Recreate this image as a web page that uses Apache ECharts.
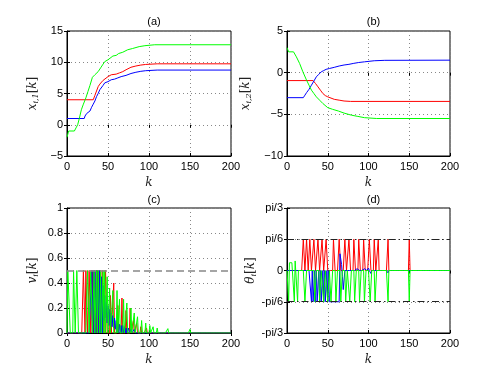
<!DOCTYPE html>
<html>
<head>
<meta charset="utf-8">
<script src="https://cdn.jsdelivr.net/npm/echarts@6/dist/echarts.min.js"></script>
<style>
  html, body { margin: 0; padding: 0; background: #fff; }
  #main { width: 498px; height: 375px; }
</style>
</head>
<body>
<div id="main"></div>
<script>
// k axis ticks
const kTicks = [0, 50, 100, 150, 200];
const TH = 0.5236; // saturation pi/6

// (a) x_{i,1}[k]  -- [k, value]
const aRed = [[0,4],[32,4],[34,4.7],[36,5.4],[38,6.1],[40,6.5],[42,6.8],[44,7.1],[46,7.4],[50,7.7],[54,8.0],[60,8.1],[64,8.3],[68,8.5],[72,8.8],[78,9.2],[84,9.4],[90,9.55],[96,9.65],[110,9.75],[200,9.75]];
const aBlue = [[0,1],[21,1],[22,1.4],[24,1.8],[26,2.0],[28,2.2],[30,2.8],[32,3.3],[34,3.8],[36,4.5],[38,5.0],[40,5.6],[42,5.9],[44,6.3],[46,6.7],[50,6.9],[54,7.2],[58,7.3],[62,7.5],[66,7.7],[72,7.9],[78,8.2],[84,8.4],[90,8.55],[96,8.65],[110,8.75],[200,8.75]];
const aGreen = [[0,-2],[2,-1],[9,-1],[11,-0.5],[13,0],[15,1],[17.5,2.4],[20,3.3],[23,4.3],[25.5,5.3],[28,6.3],[31,7.6],[34,8.0],[38,8.5],[41,9.1],[44,9.7],[46,10.1],[50,10.4],[52,10.6],[56,11.0],[60,11.1],[63,11.4],[68,11.6],[74,12.0],[80,12.2],[88,12.5],[95,12.65],[107,12.8],[200,12.8]];

// (b) x_{i,2}[k]
const bRed = [[0,-0.95],[32,-0.95],[35,-1.3],[38,-1.7],[41,-2.1],[44,-2.5],[47,-2.75],[50,-2.9],[54,-3.05],[58,-3.2],[64,-3.3],[70,-3.4],[78,-3.45],[200,-3.45]];
const bBlue = [[0,-3],[20,-3],[22,-2.7],[24,-2.4],[27,-2.0],[30,-1.5],[33,-1.0],[36,-0.5],[39,-0.2],[42,0.1],[45,0.25],[48,0.4],[52,0.5],[58,0.64],[64,0.8],[70,0.92],[76,1.0],[82,1.12],[88,1.22],[95,1.3],[107,1.43],[120,1.48],[200,1.5]];
const bGreen = [[0,3.0],[2,2.5],[8,2.5],[11.5,1.9],[15.5,1.1],[19.5,0.1],[24,-0.9],[27,-1.5],[30,-2.1],[33,-2.5],[36,-2.9],[40,-3.3],[44,-3.7],[50,-4.2],[56,-4.4],[63,-4.6],[70,-4.85],[79,-5.1],[87,-5.25],[95,-5.4],[110,-5.5],[200,-5.5]];

// (c) v_i[k]: non-zero samples [k, value], zero elsewhere
const cRed = [[20,.5],[21,.5],[23,.5],[24,.5],[27,.5],[28,.5],[31,.5],[34,.5],[35,.5],[37,.5],[40,.5],[43,.5],[44,.5],[47,.5],[48,.5],[53,.3],[57,.4],[62,.22],[67,.28],[72,.18],[77,.2],[81,.1],[85,.08],[90,.05],[97,.04]];
const cBlue = [[30,.5],[32,.5],[34,.5],[36,.5],[38,.5],[40,.5],[42,.45],[44,.38],[45,.1],[46,.3],[47,.12],[48,.25],[49,.08],[50,.22],[51,.06],[52,.19],[53,.05],[54,.16],[55,.05],[56,.14],[57,.04],[58,.12],[59,.03],[60,.1],[62,.08],[64,.07],[66,.06],[68,.06],[70,.05],[72,.04],[75,.04],[78,.03],[82,.03]];
const cGreen = [[1,.5],[2,.5],[3,.5],[8,.5],[9,.5],[12,.5],[13,.5],[25,.5],[26,.5],[29,.5],[30,.5],[33,.5],[36,.5],[38,.5],[39,.5],[41,.5],[44,.5],[46,.5],[49,.45],[52,.36],[56,.34],[61,.34],[64,.27],[69,.27],[73,.24],[78,.2],[82,.16],[86,.13],[91,.1],[96,.08],[101,.06],[105,.05],[110,.04],[123,.035],[150,.03]];

// (d) theta_i[k] (rad): non-zero samples, zero elsewhere
const dRed = [[20,TH],[21,TH],[24,TH],[25,TH],[28,TH],[29,TH],[33,TH],[34,TH],[38,TH],[39,TH],[43,TH],[44,TH],[48,TH],[49,TH],[57,TH],[58,TH],[64,TH],[65,TH],[71,TH],[72,TH],[76,TH],[77,TH],[82,TH],[83,TH],[88,TH],[89,TH],[94,TH],[95,TH],[101,TH],[102,TH],[107,TH],[108,TH],[112,TH],[124,TH],[150,TH]];
const dBlue = [[30,-TH],[32,-TH],[33,-TH],[35,-TH],[37,-TH],[38,-TH],[40,-TH],[42,-TH],[43,-TH],[45,-TH],[47,-TH],[48,-TH],[50,-TH],[52,-TH],[53,-TH],[54,-TH],[55,-TH],[56,-TH],[57,-TH],[58,-TH],[59,-TH],[60,-TH],[61,-TH],[62,-TH],[63,-TH],[64,-TH],[65,0.28],[66,0.28],[67,0.1],[68,-0.1],[69,-0.32],[70,-0.32],[78,0.02],[82,0.03],[86,0.03],[90,0.02],[95,0.03],[100,0.04],[103,-0.05],[124,-0.04]];
const dGreen = [[2,-TH],[3,0.13],[4,0.13],[5,0.13],[6,0.13],[7,0.13],[8,0.13],[9,-TH],[10,0.16],[11,0.16],[12,0.16],[13,-TH],[22,-TH],[23,-TH],[34,-TH],[35,-TH],[40,-TH],[41,-TH],[45,-TH],[46,-TH],[50,-TH],[51,-TH],[54,-TH],[55,-TH],[60,-TH],[61,-TH],[66,-TH],[67,-TH],[72,-TH],[73,-TH],[77,-TH],[78,-TH],[83,-TH],[84,-TH],[89,-TH],[90,-TH],[95,-TH],[96,-TH],[102,-TH],[103,-TH],[108,-TH],[109,-TH],[124,-TH],[150,-TH]];

// fill the k = 0..200 grid with zeros, then put the read samples in
function fill(samples) {
  const arr = [];
  for (let k = 0; k <= 200; k++) arr.push([k, 0]);
  samples.forEach(([k, v]) => { arr[k][1] = v; });
  return arr;
}

const FONT = 'Liberation Sans';
const MATH = 'DejaVu Serif';
const RED = '#ff0000', GREEN = '#00ff00', BLUE = '#0000ff';

const grids = [
  { left: 67, top: 31, width: 164, height: 125 },
  { left: 287, top: 31, width: 163, height: 125 },
  { left: 67, top: 208, width: 164, height: 125 },
  { left: 287, top: 208, width: 163, height: 125 }
].map(g => Object.assign(g, { show: true, borderColor: '#000', borderWidth: 1, backgroundColor: '#fff' }));

const mathRich = {
  m: { fontFamily: MATH, fontStyle: 'italic', fontSize: 12, color: '#222' },
  r: { fontFamily: MATH, fontSize: 12, color: '#222' },
  s: { fontFamily: MATH, fontStyle: 'italic', fontSize: 8, color: '#222', verticalAlign: 'bottom', padding: [6, 0, 0, 0] }
};

const split = { show: true, lineStyle: { color: '#888', type: [1, 3], width: 1 } };
const tick = { show: true, inside: true, length: 3, lineStyle: { color: '#000' } };

function xAxis(i) {
  return {
    type: 'value', gridIndex: i, min: 0, max: 200, interval: 50,
    name: '{m|k}', nameLocation: 'middle', nameGap: 21,
    nameTextStyle: { rich: mathRich },
    axisLine: { show: true, onZero: false, lineStyle: { color: '#000' } },
    axisTick: tick,
    axisLabel: { fontFamily: FONT, fontSize: 11, color: '#000', margin: 5 },
    splitLine: split
  };
}

// mirrored ticks on the top / right side of each box
function xTop(i) {
  return {
    type: 'value', gridIndex: i, min: 0, max: 200, interval: 50, position: 'top',
    axisLine: { show: false }, axisTick: tick, axisLabel: { show: false }, splitLine: { show: false }
  };
}

function yAxis(i, min, max, interval, name, gap, fmt) {
  return {
    type: 'value', gridIndex: i, min, max, interval,
    name, nameLocation: 'middle', nameGap: gap, nameRotate: 90,
    nameTextStyle: { rich: mathRich },
    axisLine: { show: true, onZero: false, lineStyle: { color: '#000' } },
    axisTick: tick,
    axisLabel: { fontFamily: FONT, fontSize: 11, color: '#000', margin: 4, formatter: fmt },
    splitLine: split
  };
}

function yRight(i, min, max, interval) {
  return {
    type: 'value', gridIndex: i, min, max, interval, position: 'right',
    axisLine: { show: false }, axisTick: tick, axisLabel: { show: false }, splitLine: { show: false }
  };
}

const numFmt = v => (v < 0 ? '\u2212' + Math.abs(v) : String(v));
const piNames = { '2': 'pi/3', '1': 'pi/6', '0': '0', '-1': '-pi/6', '-2': '-pi/3' };
const piFmt = v => piNames[String(Math.round(v / (Math.PI / 6)))];

function line(i, data, color, z, extra) {
  return Object.assign({
    type: 'line', xAxisIndex: i, yAxisIndex: i, data,
    showSymbol: false, symbol: 'none', z,
    lineStyle: { color, width: 1 }, itemStyle: { color },
    animation: false
  }, extra || {});
}

const titles = ['(a)', '(b)', '(c)', '(d)'].map((t, i) => ({
  text: t,
  left: grids[i].left + grids[i].width / 2,
  top: i < 2 ? 11 : 189,
  textAlign: 'center',
  textStyle: { fontFamily: FONT, fontSize: 11, fontWeight: 'normal', color: '#000' }
}));

const dashLimit = {
  silent: true, symbol: 'none', label: { show: false },
  lineStyle: { color: '#222', type: [7, 3, 1.5, 3], width: 1 },
  data: [{ yAxis: Math.PI / 6 }, { yAxis: -Math.PI / 6 }]
};

const P3 = Math.PI / 3, P6 = Math.PI / 6;

const option = {
  animation: false,
  title: titles,
  grid: grids,
  xAxis: [xAxis(0), xAxis(1), xAxis(2), xAxis(3), xTop(0), xTop(1), xTop(2), xTop(3)],
  yAxis: [
    yAxis(0, -5, 15, 5, '{m|x}{s|i,1}{r|[}{m|k}{r|]}', 27, numFmt),
    yAxis(1, -10, 5, 5, '{m|x}{s|i,2}{r|[}{m|k}{r|]}', 34, numFmt),
    yAxis(2, 0, 1, 0.2, '{m|v}{s|i}{r|[}{m|k}{r|]}', 27, v => (Math.round(v * 10) / 10).toString()),
    yAxis(3, -P3, P3, P6, '{m|\u03b8}{s|i}{r|[}{m|k}{r|]}', 27, piFmt),
    yRight(0, -5, 15, 5), yRight(1, -10, 5, 5), yRight(2, 0, 1, 0.2), yRight(3, -P3, P3, P6)
  ],
  series: [
    line(0, aRed, RED, 2), line(0, aBlue, BLUE, 3), line(0, aGreen, GREEN, 4),
    line(1, bRed, RED, 2), line(1, bBlue, BLUE, 3), line(1, bGreen, GREEN, 4),
    line(2, fill(cRed), RED, 2, {
      markLine: {
        silent: true, symbol: 'none', label: { show: false },
        lineStyle: { color: '#888', type: [7, 4], width: 1.5 },
        data: [{ yAxis: 0.5 }]
      }
    }),
    line(2, fill(cBlue), BLUE, 3), line(2, fill(cGreen), GREEN, 4),
    line(3, fill(dRed), RED, 2, { markLine: dashLimit }),
    line(3, fill(dBlue), BLUE, 3), line(3, fill(dGreen), GREEN, 4)
  ]
};

const chart = echarts.init(document.getElementById('main'));
chart.setOption(option);
</script>
</body>
</html>
